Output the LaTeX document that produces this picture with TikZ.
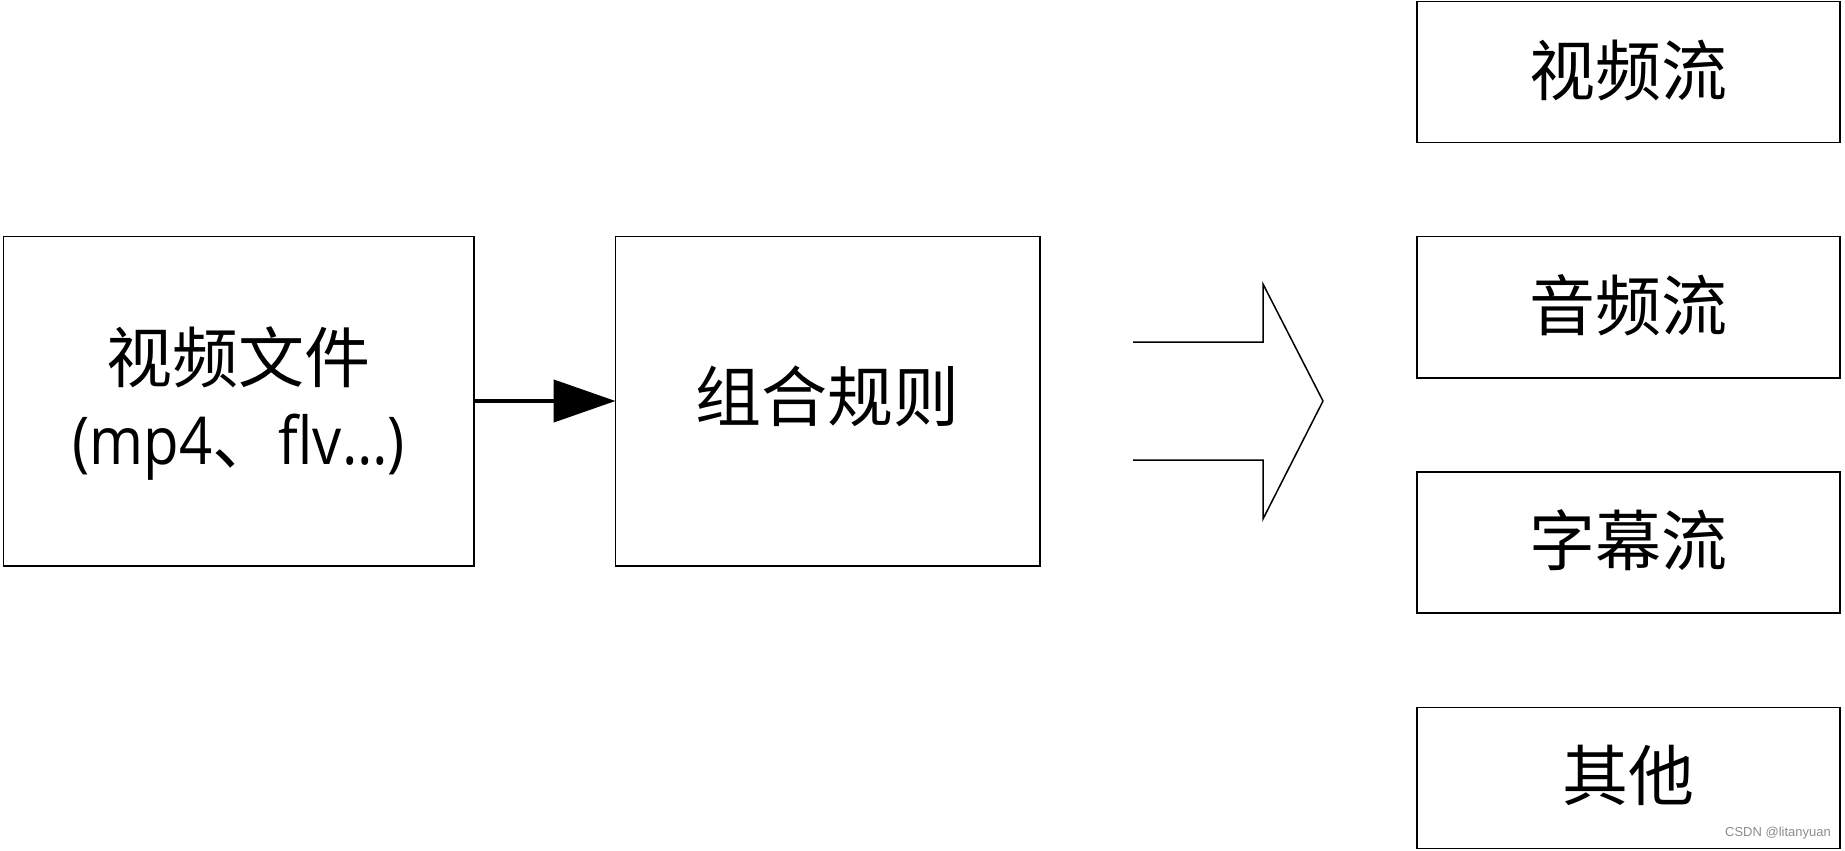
\documentclass[tikz,border=0pt]{standalone}
\usepackage{fontspec}
\setmainfont{Noto Sans CJK SC}
\newfontfamily\latinfont[FakeStretch=0.88]{Open Sans}
\usetikzlibrary{arrows.meta}
\begin{document}
\begin{tikzpicture}[x=1pt,y=-1pt,
  box/.style={draw=black,line width=1.6pt,fill=white,inner sep=0pt},
  lbl/.style={font=\fontsize{66}{82}\selectfont,align=center,inner sep=0pt},
  conn/.style={line width=4.5pt,-{Triangle[length=62pt,width=42pt]}},
  bigarrow/.style={draw=black,line width=1.5pt,line join=miter}]
\useasboundingbox (0,0) rectangle (1845,851);
\fill[white] (0,0) rectangle (1845,851);
% left boxes
\draw[box] (3.5,236.5) rectangle (474,566);
\node[lbl] (file) at (238.7,403) {视频文件\\{\latinfont (mp4}、{\latinfont flv…)}};
\coordinate (fileR) at (474,401);
\draw[box] (615.5,236.5) rectangle (1040,566);
\node[lbl] (rule) at (827.7,396) {组合规则};
\coordinate (ruleL) at (615.5,401);
\draw[conn] (fileR) -- (ruleL);
% block arrow
\coordinate (a1) at (1133,342);
\coordinate (a2) at (1263,342);
\coordinate (a3) at (1263,284);
\coordinate (a4) at (1323,401);
\coordinate (a5) at (1263,519);
\coordinate (a6) at (1263,460);
\coordinate (a7) at (1133,460);
\draw[bigarrow] (a1) -- (a2) -- (a3) -- (a4) -- (a5) -- (a6) -- (a7);
% right boxes
\draw[box] (1417,1.5) rectangle (1840,142.5);
\node[lbl] (s1) at (1628.5,70) {视频流};
\draw[box] (1417,236.5) rectangle (1840,378);
\node[lbl] (s2) at (1628.5,305) {音频流};
\draw[box] (1417,472) rectangle (1840,613);
\node[lbl] (s3) at (1628.5,540) {字幕流};
\draw[box] (1417,707.5) rectangle (1840,848.5);
\node[lbl] (s4) at (1628.5,775) {其他};
\node[font=\fontsize{13}{15}\selectfont\fontspec{Liberation Sans},text=black!45,anchor=east,inner sep=0pt] (wm) at (1831,833) {CSDN @litanyuan};
\end{tikzpicture}
\end{document}
